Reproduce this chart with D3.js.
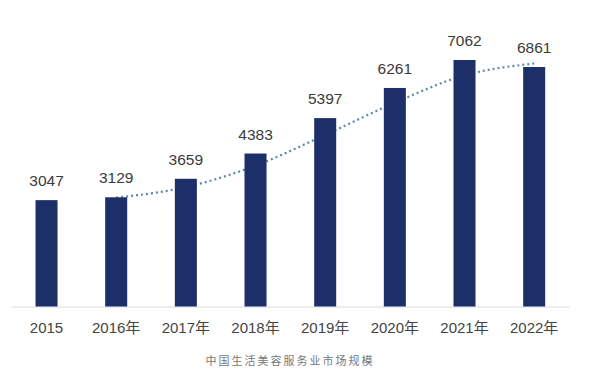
<!DOCTYPE html>
<html><head><meta charset="utf-8">
<script src="https://cdn.jsdelivr.net/npm/d3@7"></script>
<style>html,body{margin:0;padding:0;background:#fff;}svg{display:block;}</style>
</head><body>
<script>
const categories = ["2015","2016年","2017年","2018年","2019年","2020年","2021年","2022年"];
const values = [3047,3129,3659,4383,5397,6261,7062,6861];
const trendCategories = ["2016年","2017年","2018年","2019年","2020年","2021年","2022年"];
const trendValues = [3120,3420,4035,4918,5837,6622,6962];
const title = "中国生活美容服务业市场规模";

const W = 600, H = 382;
const svg = d3.select("body").append("svg").attr("width", W).attr("height", H);
const font = "'Liberation Sans', Arial, 'Noto Sans CJK SC', sans-serif";

const x = d3.scaleBand().domain(categories).range([11.7, 569]).paddingInner(0.684).paddingOuter(0.342);
const y = d3.scaleLinear().domain([0, 7062]).range([306.5, 60]);

// trend line (behind bars)
const line = d3.line()
  .x((d, i) => x(trendCategories[i]) + x.bandwidth() / 2)
  .y(d => y(d))
  .curve(d3.curveMonotoneX);
svg.append("path").datum(trendValues)
  .attr("d", line)
  .attr("fill", "none")
  .attr("stroke", "#5a8aaa")
  .attr("stroke-width", 2.2)
  .attr("stroke-dasharray", "2 3");

// axis line
const axis = svg.append("g").attr("transform", `translate(0,${y(0)})`)
  .call(d3.axisBottom(x).tickSize(0).tickPadding(0));
axis.select(".domain").attr("stroke", "#dcdcdc").attr("stroke-width", 1.2);
axis.selectAll("text").remove();

// bars
svg.selectAll("rect.bar").data(values).enter().append("rect")
  .attr("class", "bar")
  .attr("x", (d, i) => x(categories[i]))
  .attr("y", d => y(d))
  .attr("width", x.bandwidth())
  .attr("height", d => y(0) - y(d))
  .attr("fill", "#1c2f68");

// value labels
svg.selectAll("text.val").data(values).enter().append("text")
  .attr("x", (d, i) => x(categories[i]) + x.bandwidth() / 2)
  .attr("y", d => y(d) - 14)
  .attr("text-anchor", "middle")
  .attr("font-family", font)
  .attr("font-size", 15.5)
  .attr("fill", "#3a3a3a")
  .text(d => d);

// category labels
svg.selectAll("text.cat").data(categories).enter().append("text")
  .attr("x", d => x(d) + x.bandwidth() / 2)
  .attr("y", 333)
  .attr("text-anchor", "middle")
  .attr("font-family", font)
  .attr("font-size", 15)
  .attr("fill", "#444")
  .text(d => d);

// title
svg.append("text")
  .attr("x", 290).attr("y", 365)
  .attr("text-anchor", "middle")
  .attr("font-family", "'Noto Sans CJK SC', sans-serif")
  .attr("font-size", 11)
  .attr("letter-spacing", 2)
  .attr("fill", "#777")
  .text(title);
</script>
</body></html>
